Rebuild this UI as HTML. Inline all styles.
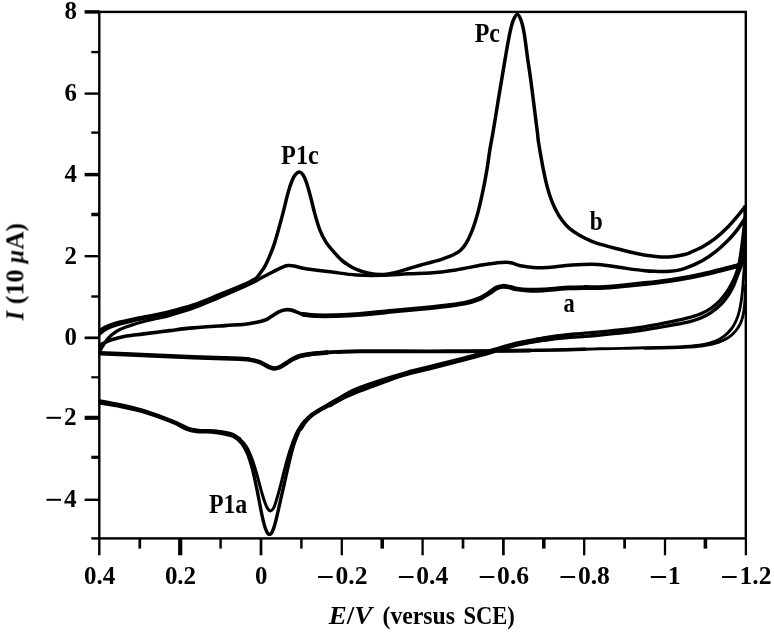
<!DOCTYPE html>
<html>
<head>
<meta charset="utf-8">
<title>Cyclic voltammogram</title>
<style>
html,body{margin:0;padding:0;background:#fff;}
body{width:774px;height:633px;overflow:hidden;}
svg{display:block;}
svg text{font-family:"Liberation Serif",serif;font-weight:bold;font-size:26px;fill:#000;}
svg text.t{font-size:25px;}
svg text.p{font-size:27px;}
svg .i{font-style:italic;}
.cv path{fill:none;stroke:#000;stroke-linecap:round;stroke-linejoin:round;}
.ax line{stroke:#000;}
</style>
</head>
<body>
<svg width="774" height="633" viewBox="0 0 774 633">
<rect x="0" y="0" width="774" height="633" fill="#fff"/>
<defs><filter id="soft" x="0" y="0" width="774" height="633" filterUnits="userSpaceOnUse"><feGaussianBlur stdDeviation="0.45"/></filter><clipPath id="fr"><rect x="98.2" y="10.8" width="648.6" height="528.6"/></clipPath></defs>
<g filter="url(#soft)">
<g class="cv" clip-path="url(#fr)">
<path d="M99.5,331.0C100.4,330.4 102.3,328.6 105.0,327.3C107.7,326.0 109.7,324.8 115.8,323.2C121.9,321.6 133.1,319.3 141.7,317.5C150.3,315.7 158.9,314.3 167.5,312.2C176.1,310.1 184.8,307.9 193.4,305.0C202.0,302.1 210.6,298.2 219.2,294.7C227.8,291.2 239.5,286.4 245.0,284.0C250.5,281.6 250.1,281.6 252.0,280.6C253.9,279.6 255.1,279.2 256.4,278.0C257.7,276.8 258.7,275.2 260.0,273.4C261.3,271.6 262.9,269.9 264.4,267.2C265.9,264.5 267.7,260.7 269.1,257.4C270.5,254.1 271.7,251.2 273.0,247.6C274.3,244.0 275.1,241.7 276.7,236.0C278.3,230.3 281.0,220.6 282.9,213.4C284.8,206.2 286.5,198.4 288.0,192.9C289.5,187.4 290.8,183.6 292.1,180.5C293.4,177.4 294.4,175.8 295.6,174.4C296.8,173.0 298.1,171.9 299.3,172.0C300.5,172.1 301.8,173.0 303.0,174.8C304.2,176.6 305.2,178.9 306.5,182.6C307.8,186.3 309.2,191.9 310.6,197.0C312.0,202.1 313.2,207.9 314.7,213.4C316.2,218.9 317.9,225.0 319.8,229.8C321.7,234.6 323.6,238.3 326.0,242.1C328.4,245.9 331.4,249.2 334.2,252.4C337.0,255.6 339.0,258.2 342.6,261.0C346.2,263.8 351.4,267.2 355.8,269.2C360.2,271.2 364.5,272.3 368.8,273.2C373.1,274.1 377.4,274.7 381.7,274.6C386.0,274.5 390.3,273.5 394.6,272.6C398.9,271.7 403.1,270.3 407.5,269.0C411.9,267.7 416.8,266.2 420.9,265.0C425.0,263.8 428.3,263.0 432.0,262.0C435.7,261.0 439.4,260.0 442.9,258.8C446.4,257.6 449.9,256.4 452.9,255.0C455.8,253.6 458.4,252.2 460.6,250.2C462.8,248.2 464.5,245.9 466.3,243.0C468.1,240.1 469.9,236.1 471.3,232.7C472.7,229.3 473.5,227.3 474.9,222.8C476.3,218.3 478.2,211.5 479.6,205.8C481.0,200.1 482.1,195.0 483.4,188.7C484.7,182.4 486.1,174.5 487.2,167.9C488.3,161.3 489.0,154.8 490.0,148.9C491.0,143.0 492.1,137.8 493.0,132.3C493.9,126.8 494.8,121.7 495.7,115.9C496.6,110.1 497.7,103.6 498.7,97.4C499.7,91.2 500.8,85.1 501.8,78.9C502.8,72.7 503.9,66.5 504.9,60.4C505.9,54.3 507.0,47.7 508.0,42.5C509.0,37.3 509.8,33.0 510.7,29.2C511.6,25.4 512.4,22.3 513.5,19.8C514.6,17.3 516.0,14.2 517.2,14.2C518.4,14.2 519.9,17.3 520.9,19.8C521.9,22.3 522.6,25.4 523.4,29.2C524.2,33.0 524.8,37.3 525.5,42.5C526.2,47.7 527.0,54.3 527.9,60.4C528.8,66.5 529.8,72.7 530.6,78.9C531.5,85.1 532.2,91.2 533.0,97.4C533.8,103.6 534.6,110.1 535.3,115.9C536.0,121.7 536.9,128.1 537.4,132.3C537.9,136.6 537.8,137.6 538.4,141.4C539.0,145.2 539.9,150.4 540.7,155.2C541.6,160.0 542.5,165.6 543.5,170.3C544.5,175.0 545.3,179.2 546.4,183.6C547.5,188.0 548.8,192.7 550.2,196.8C551.6,200.9 553.0,204.4 554.9,208.2C556.8,212.0 559.1,216.2 561.5,219.5C563.9,222.8 566.2,225.6 569.1,228.1C572.0,230.6 574.8,232.5 578.6,234.7C582.4,236.9 587.1,239.4 591.8,241.3C596.5,243.2 602.3,244.7 607.0,246.1C611.7,247.5 615.5,248.3 620.2,249.5C624.9,250.7 630.4,252.1 635.0,253.1C639.6,254.1 643.7,255.0 648.0,255.6C652.3,256.2 656.7,256.8 661.0,256.9C665.3,257.0 669.9,256.8 674.0,256.4C678.1,256.0 682.7,254.9 685.4,254.3C688.1,253.7 687.1,253.8 690.0,252.6C692.9,251.3 698.4,249.2 702.6,246.8C706.8,244.4 711.1,241.7 715.3,238.4C719.5,235.1 724.1,230.8 727.9,227.0C731.7,223.2 735.3,218.8 738.0,215.6C740.7,212.4 743.1,209.1 744.3,207.6C745.5,206.1 744.9,206.9 745.0,206.8" stroke-width="3.5"/>
<path d="M99.5,334.0C100.4,333.3 102.9,331.0 104.9,329.8C106.9,328.6 108.2,327.8 111.4,326.6C114.6,325.4 118.9,324.2 124.3,322.8C129.7,321.4 136.5,319.7 143.7,318.2C150.9,316.7 159.2,315.6 167.5,313.6C175.8,311.7 184.8,309.4 193.4,306.5C202.0,303.6 210.6,299.7 219.2,296.1C227.8,292.6 238.5,287.9 245.0,285.2C251.5,282.4 253.2,281.9 258.0,279.6C262.8,277.3 269.6,273.6 273.6,271.5C277.6,269.4 279.6,268.3 282.0,267.3C284.4,266.3 286.0,265.8 288.0,265.6C290.0,265.4 291.2,265.5 294.0,266.0C296.8,266.5 298.5,267.4 304.6,268.4C310.7,269.4 321.8,270.7 330.4,271.8C339.0,272.9 347.7,274.4 356.3,275.0C364.9,275.6 373.5,275.5 382.1,275.3C390.7,275.1 400.0,274.2 408.0,273.8C416.0,273.4 422.0,273.6 430.0,273.0C438.0,272.4 447.2,271.2 455.8,269.9C464.4,268.6 474.8,266.2 481.7,265.0C488.6,263.8 492.9,263.3 497.0,262.8C501.1,262.3 503.5,262.2 506.0,262.2C508.5,262.2 509.6,262.4 512.0,263.0C514.4,263.6 516.8,265.0 520.4,265.8C524.0,266.6 529.1,267.3 533.4,267.6C537.7,267.9 539.8,268.0 546.3,267.6C552.8,267.2 563.5,265.5 572.1,265.0C580.7,264.5 589.6,264.0 598.0,264.5C606.4,265.0 614.7,266.8 622.5,267.8C630.3,268.9 639.1,270.2 645.0,270.8C650.9,271.4 653.8,271.3 658.0,271.4C662.2,271.5 666.2,271.5 670.0,271.2C673.8,270.9 677.6,270.4 680.9,269.6C684.2,268.8 686.4,267.9 690.0,266.4C693.6,264.9 698.4,263.0 702.6,260.6C706.8,258.2 711.1,255.2 715.3,251.9C719.5,248.6 724.3,244.1 727.9,240.5C731.5,236.9 734.4,233.5 736.8,230.4C739.2,227.3 741.0,224.3 742.4,222.2C743.8,220.1 744.6,218.7 745.0,218.0" stroke-width="3.5"/>
<path d="M99.8,352.0C100.0,351.5 100.4,349.9 100.8,349.0C101.2,348.1 101.6,347.7 102.3,346.7C103.0,345.7 103.8,344.3 104.9,342.8C106.0,341.3 107.3,339.2 108.8,337.6C110.3,336.0 112.1,334.5 114.0,333.1C115.9,331.7 117.6,330.5 120.4,329.2C123.2,327.9 126.9,326.7 130.8,325.4C134.7,324.1 139.4,322.6 143.7,321.5C148.0,320.4 152.2,319.5 156.6,318.5C161.0,317.5 163.9,317.1 170.0,315.4C176.1,313.6 185.2,311.0 193.4,308.0C201.6,305.0 210.6,301.0 219.2,297.4C227.8,293.8 238.9,288.9 245.0,286.2C251.1,283.5 254.2,281.9 256.0,281.0" stroke-width="3.3"/>
<path d="M745.0,207.0C745.0,210.0 745.1,218.7 745.0,225.0C744.9,231.3 744.5,239.5 744.2,245.0C743.9,250.5 743.5,254.5 743.0,258.0C742.5,261.5 741.8,263.9 741.2,266.0C740.6,268.1 740.1,268.7 739.4,270.5C738.7,272.3 737.9,274.4 736.9,277.0C735.9,279.6 734.8,283.0 733.4,286.0C732.0,289.0 730.4,292.0 728.4,295.0C726.4,298.0 724.1,301.1 721.3,304.0C718.4,306.9 714.6,310.1 711.3,312.4C708.0,314.7 704.9,316.3 701.4,317.8C697.9,319.3 693.9,320.6 690.0,321.6C686.1,322.6 683.3,323.0 678.0,324.0C672.7,325.0 664.3,326.5 658.0,327.6C651.7,328.7 646.3,329.7 640.0,330.6C633.7,331.5 626.7,332.3 620.0,333.0C613.3,333.7 605.9,334.4 600.0,335.0C594.1,335.6 591.6,335.8 584.8,336.4C578.0,337.0 567.3,337.6 559.2,338.4C551.1,339.2 544.0,339.9 536.4,341.0C528.8,342.1 520.3,343.6 513.7,345.0C507.1,346.4 502.3,348.1 496.6,349.7C490.9,351.3 486.2,352.9 479.6,354.8C473.0,356.7 465.4,358.9 456.9,361.1C448.4,363.3 436.8,366.1 428.4,368.2C420.0,370.3 413.9,371.6 406.5,373.9C399.1,376.2 388.9,380.3 383.7,382.2C378.4,384.1 379.9,383.6 375.0,385.5C370.1,387.4 360.1,390.9 354.0,393.4C347.9,395.9 343.5,398.0 338.2,400.5C332.9,403.0 326.9,405.9 322.4,408.4C317.9,410.9 314.2,413.2 311.3,415.5C308.4,417.8 306.8,419.7 305.0,421.9C303.2,424.1 301.8,426.7 300.6,428.6C299.4,430.5 299.2,430.5 298.0,433.5C296.8,436.5 294.8,441.2 293.2,446.5C291.6,451.8 290.0,458.9 288.4,465.5C286.8,472.1 285.3,479.4 283.7,486.3C282.1,493.2 280.4,501.0 279.0,507.1C277.6,513.2 276.3,519.1 275.2,523.2C274.1,527.3 273.2,529.8 272.3,531.7C271.4,533.6 270.4,534.4 269.5,534.4C268.6,534.4 267.6,533.6 266.7,531.7C265.8,529.8 264.9,527.6 263.8,523.2C262.7,518.8 261.2,511.4 260.0,505.2C258.8,499.0 257.6,492.3 256.3,486.3C255.1,480.3 253.9,474.6 252.5,469.2C251.1,463.8 249.4,458.4 247.7,454.1C245.9,449.9 244.2,446.6 242.0,443.7C239.8,440.8 237.3,438.6 234.5,437.0C231.7,435.4 228.9,434.8 225.0,434.0C221.1,433.2 215.7,432.4 211.3,432.0C206.9,431.6 202.3,432.1 198.4,431.7C194.5,431.3 192.3,431.3 188.0,429.7C183.7,428.1 179.4,425.0 172.5,422.2C165.6,419.4 155.3,415.4 146.7,412.8C138.1,410.2 128.5,408.2 120.8,406.6C113.0,405.0 103.6,403.8 100.2,403.2" stroke-width="3.4"/>
<path d="M745.0,218.0C744.9,219.3 744.6,222.3 744.2,226.0C743.8,229.7 743.1,235.7 742.6,240.0C742.1,244.3 741.5,248.3 741.0,252.0C740.5,255.7 740.0,259.0 739.4,262.0C738.8,265.0 738.1,267.7 737.4,270.0C736.7,272.3 736.1,273.8 735.2,276.0C734.3,278.2 733.4,280.4 732.0,283.0C730.6,285.6 729.0,288.9 727.0,291.8C725.0,294.7 722.5,297.9 719.9,300.6C717.3,303.3 714.4,305.8 711.3,308.0C708.2,310.2 704.9,312.0 701.4,313.6C697.9,315.2 693.9,316.3 690.0,317.4C686.1,318.5 683.3,319.0 678.0,320.2C672.7,321.4 664.3,323.1 658.0,324.3C651.7,325.5 646.3,326.6 640.0,327.5C633.7,328.4 626.7,329.3 620.0,330.0C613.3,330.7 607.5,331.2 600.0,331.9C592.5,332.6 583.0,333.2 575.0,334.0C567.0,334.8 558.4,335.7 552.0,336.6C545.6,337.5 539.0,338.8 536.4,339.2" stroke-width="3.3"/>
<path d="M305.0,420.5C304.3,421.4 302.3,423.4 300.8,425.7C299.3,428.0 297.8,430.1 296.0,434.2C294.2,438.3 291.8,444.8 290.0,450.3C288.2,455.8 286.7,461.3 285.1,467.3C283.5,473.3 281.7,480.9 280.3,486.3C278.9,491.7 277.7,495.9 276.6,499.5C275.5,503.1 274.7,506.0 273.7,507.9C272.7,509.8 271.5,510.8 270.5,510.9C269.5,511.0 268.7,510.1 267.8,508.8C266.9,507.5 266.2,506.1 265.2,503.3C264.2,500.5 263.0,496.7 261.6,492.0C260.2,487.3 258.6,480.3 257.0,474.9C255.4,469.5 254.0,464.4 252.3,459.8C250.6,455.2 248.7,450.4 246.6,447.0C244.5,443.6 242.4,441.5 240.0,439.5C237.6,437.5 233.3,435.8 232.0,435.0" stroke-width="3.0"/>
<path d="M240.0,439.0C238.7,438.2 235.0,435.4 232.0,434.2C229.0,433.0 225.4,432.5 222.0,431.9C218.6,431.3 215.2,430.9 211.3,430.7C207.4,430.4 202.3,430.8 198.4,430.4C194.5,430.0 192.3,430.0 188.0,428.4C183.7,426.8 179.4,423.8 172.5,421.0C165.6,418.2 155.3,414.3 146.7,411.6C138.1,408.9 128.5,406.7 120.8,404.9C113.0,403.1 103.6,401.6 100.2,401.0" stroke-width="3.4"/>
<path d="M99.5,346.0C99.8,345.7 100.7,344.9 101.5,344.4C102.3,343.9 102.8,343.6 104.5,342.8C106.2,342.0 108.1,340.9 111.4,339.8C114.7,338.8 118.9,337.5 124.3,336.5C129.7,335.5 136.2,334.9 143.7,333.9C151.2,332.9 161.2,331.6 169.5,330.6C177.8,329.6 184.2,328.7 193.4,327.9C202.7,327.1 216.4,326.2 225.0,325.6C233.6,325.0 239.9,324.7 245.0,324.2C250.1,323.7 252.4,323.2 255.8,322.5C259.2,321.8 262.7,321.0 265.3,320.0C267.9,319.0 269.5,317.6 271.6,316.3C273.7,315.0 275.8,313.4 277.9,312.3C280.0,311.2 282.1,310.4 284.2,310.0C286.3,309.6 288.5,309.5 290.6,309.9C292.7,310.2 294.8,311.4 296.9,312.1C299.0,312.9 300.0,313.8 303.2,314.4C306.4,315.0 310.5,315.5 315.8,315.7C321.1,315.9 331.6,315.7 334.8,315.7" stroke-width="3.6"/>
<path d="M303.2,314.4C305.3,314.6 310.5,315.5 315.8,315.7C321.1,315.9 327.4,315.9 334.8,315.7C342.2,315.5 349.5,315.2 360.0,314.4C370.5,313.6 386.6,311.8 398.0,310.7C409.4,309.6 419.7,308.7 428.4,307.8C437.1,306.9 443.8,306.2 450.0,305.4C456.2,304.6 460.9,304.0 465.5,303.0C470.1,302.0 474.0,300.9 477.9,299.3C481.8,297.7 485.7,295.2 488.8,293.3C491.9,291.4 494.2,289.2 496.5,288.0C498.8,286.8 500.6,286.5 502.7,286.3C504.8,286.1 506.6,286.6 508.9,287.0C511.2,287.4 513.6,288.5 516.7,289.0C519.8,289.5 523.1,290.0 527.5,290.2C531.9,290.4 537.8,290.2 543.0,290.0C548.2,289.8 554.0,289.1 558.5,288.7C563.0,288.3 565.6,288.1 570.0,287.9C574.4,287.7 580.0,287.6 585.0,287.5C590.0,287.4 593.8,287.9 600.0,287.6C606.2,287.3 615.0,286.5 622.5,285.8C630.0,285.1 637.5,284.3 645.0,283.5C652.5,282.7 659.9,281.9 667.4,280.8C674.9,279.7 683.9,278.2 690.0,277.1C696.1,276.0 699.5,275.3 704.2,274.2C708.9,273.1 713.6,271.9 718.4,270.7C723.1,269.5 729.4,268.0 732.7,267.1C736.0,266.2 736.8,266.3 738.4,265.5C740.0,264.7 741.4,263.8 742.5,262.5C743.6,261.2 744.6,258.8 745.0,258.0" stroke-width="4.8"/>
<path d="M745.0,258.0C744.9,259.3 744.8,263.4 744.6,266.0C744.4,268.6 744.1,270.1 743.8,273.5C743.5,276.9 743.3,282.0 742.9,286.3C742.5,290.6 742.1,295.1 741.5,299.1C740.9,303.1 740.4,306.9 739.5,310.5C738.6,314.1 737.6,317.4 736.2,320.5C734.8,323.6 733.3,326.4 731.3,329.0C729.3,331.6 726.7,334.1 724.1,336.1C721.5,338.1 718.9,339.7 715.6,341.1C712.3,342.5 708.5,343.6 704.2,344.5C699.9,345.4 694.2,345.8 690.0,346.2C685.8,346.6 686.2,346.6 678.7,346.9C671.2,347.2 654.5,347.6 645.0,347.8C635.5,348.1 629.5,348.2 622.0,348.4C614.5,348.6 607.8,348.6 600.0,348.8C592.2,349.0 583.3,349.3 575.0,349.5C566.7,349.7 559.2,349.9 550.0,350.1C540.8,350.3 525.0,350.5 520.0,350.6" stroke-width="2.9"/>
<path d="M585.0,349.3C579.2,349.4 560.8,349.9 550.0,350.1C539.2,350.3 528.3,350.5 520.0,350.6C511.7,350.7 503.3,350.8 500.0,350.9" stroke-width="3.4"/>
<path d="M530.0,350.5C525.0,350.6 513.3,350.8 500.0,350.9C486.7,351.0 467.0,351.2 450.0,351.3C433.0,351.4 413.0,351.3 398.0,351.3C383.0,351.3 369.2,351.2 360.0,351.3C350.8,351.4 348.2,351.5 342.7,351.7C337.2,351.9 332.2,352.1 326.9,352.5C321.6,352.9 315.6,353.4 311.1,354.0C306.6,354.6 301.9,355.7 300.0,356.0" stroke-width="3.9"/>
<path d="M326.9,352.5C324.3,352.8 315.6,353.4 311.1,354.0C306.6,354.6 303.2,355.1 300.0,356.0C296.8,356.9 294.5,358.2 292.1,359.5C289.7,360.8 287.9,362.2 285.8,363.5C283.7,364.8 281.3,366.4 279.5,367.2C277.7,368.0 276.4,368.5 274.8,368.5C273.2,368.5 271.6,368.0 270.0,367.4C268.4,366.8 267.1,365.9 265.3,365.0C263.5,364.1 261.6,362.8 259.0,361.9C256.4,361.0 252.7,360.1 249.5,359.6C246.3,359.1 249.3,359.2 240.0,358.8C230.7,358.4 209.8,357.9 193.4,357.2C177.0,356.5 157.2,355.6 141.7,354.9C126.2,354.2 107.2,353.5 100.3,353.2" stroke-width="4.5"/>
<path d="M745.6,285.0C745.5,286.8 745.4,292.7 745.2,296.0C745.0,299.3 744.9,301.7 744.6,304.8C744.3,307.9 743.9,311.7 743.2,314.8C742.5,317.9 741.8,320.6 740.5,323.3C739.2,326.0 737.5,328.7 735.5,331.1C733.5,333.5 731.2,335.6 728.4,337.5C725.5,339.4 722.4,340.9 718.4,342.3C714.4,343.7 708.9,344.8 704.2,345.6C699.5,346.4 694.2,346.8 690.0,347.1C685.8,347.4 686.2,347.4 678.7,347.6C671.2,347.8 650.6,348.3 645.0,348.4" stroke-width="2.9"/>
<path d="M552.0,338.3C549.4,338.6 542.8,339.3 536.4,340.4C530.0,341.5 520.3,343.2 513.7,344.8C507.1,346.4 502.3,348.1 496.6,349.8C490.9,351.5 486.2,353.0 479.6,354.8C473.0,356.6 465.2,358.7 456.9,360.8C448.6,362.9 438.2,365.5 430.0,367.6C421.8,369.7 415.6,371.0 407.5,373.2C399.4,375.4 390.3,378.2 381.7,381.0C373.1,383.8 363.1,387.1 355.8,390.2C348.6,393.3 342.5,397.4 338.2,399.8C333.9,402.2 331.4,403.8 330.0,404.6" stroke-width="5.3"/>
<path d="M338.2,399.8C335.6,401.2 326.9,405.8 322.4,408.4C317.9,411.0 314.2,413.2 311.3,415.5C308.4,417.8 306.8,419.7 305.0,421.9C303.2,424.1 301.3,427.5 300.6,428.6" stroke-width="4.5"/>
</g>
<g class="ax">
<rect x="99.3" y="11.9" width="646.5" height="526.5" fill="none" stroke="#000" stroke-width="2.4"/>
<line x1="84.6" x2="99.3" y1="11.9" y2="11.9" stroke-width="3.5"/>
<line x1="91.3" x2="99.3" y1="52.1" y2="52.1" stroke-width="2.4"/>
<line x1="84.6" x2="99.3" y1="93.6" y2="93.6" stroke-width="2.4"/>
<line x1="91.3" x2="99.3" y1="132.6" y2="132.6" stroke-width="2.4"/>
<line x1="84.6" x2="99.3" y1="174.6" y2="174.6" stroke-width="3.5"/>
<line x1="91.3" x2="99.3" y1="214.5" y2="214.5" stroke-width="3.5"/>
<line x1="84.6" x2="99.3" y1="256.2" y2="256.2" stroke-width="2.4"/>
<line x1="91.3" x2="99.3" y1="296.5" y2="296.5" stroke-width="2.4"/>
<line x1="84.6" x2="99.3" y1="337.8" y2="337.8" stroke-width="2.7"/>
<line x1="91.3" x2="99.3" y1="377.3" y2="377.3" stroke-width="2.2"/>
<line x1="84.6" x2="99.3" y1="417.8" y2="417.8" stroke-width="4.1"/>
<line x1="91.3" x2="99.3" y1="457.3" y2="457.3" stroke-width="3.2"/>
<line x1="84.6" x2="99.3" y1="499.8" y2="499.8" stroke-width="2.4"/>
<line x1="91.3" x2="99.3" y1="538.4" y2="538.4" stroke-width="2.4"/>
<line x1="99.3" x2="99.3" y1="538.4" y2="555.3" stroke-width="2.4"/>
<line x1="139.8" x2="139.8" y1="538.4" y2="548.6" stroke-width="2.7"/>
<line x1="180.2" x2="180.2" y1="538.4" y2="555.3" stroke-width="4.2"/>
<line x1="220.6" x2="220.6" y1="538.4" y2="548.6" stroke-width="2.4"/>
<line x1="261.0" x2="261.0" y1="538.4" y2="555.3" stroke-width="2.7"/>
<line x1="301.4" x2="301.4" y1="538.4" y2="548.6" stroke-width="2.4"/>
<line x1="341.8" x2="341.8" y1="538.4" y2="555.3" stroke-width="2.3"/>
<line x1="382.2" x2="382.2" y1="538.4" y2="548.6" stroke-width="3.6"/>
<line x1="422.6" x2="422.6" y1="538.4" y2="555.3" stroke-width="2.3"/>
<line x1="463.0" x2="463.0" y1="538.4" y2="548.6" stroke-width="2.7"/>
<line x1="503.4" x2="503.4" y1="538.4" y2="555.3" stroke-width="2.7"/>
<line x1="543.8" x2="543.8" y1="538.4" y2="548.6" stroke-width="3.6"/>
<line x1="584.2" x2="584.2" y1="538.4" y2="555.3" stroke-width="2.3"/>
<line x1="624.6" x2="624.6" y1="538.4" y2="548.6" stroke-width="2.7"/>
<line x1="665.0" x2="665.0" y1="538.4" y2="555.3" stroke-width="2.3"/>
<line x1="705.4" x2="705.4" y1="538.4" y2="548.6" stroke-width="3.6"/>
<line x1="745.9" x2="745.9" y1="538.4" y2="555.3" stroke-width="2.3"/>
</g>
<g class="lb" style="opacity:.999">
<text x="64.4" y="19.3" textLength="12.4" lengthAdjust="spacingAndGlyphs">8</text>
<text x="64.4" y="101.0" textLength="12.4" lengthAdjust="spacingAndGlyphs">6</text>
<text x="64.4" y="182.0" textLength="12.4" lengthAdjust="spacingAndGlyphs">4</text>
<text x="64.4" y="263.6" textLength="12.4" lengthAdjust="spacingAndGlyphs">2</text>
<text x="64.4" y="345.2" textLength="12.4" lengthAdjust="spacingAndGlyphs">0</text>
<rect x="46.5" y="416.8" width="14.5" height="2.0"/>
<text x="64.0" y="425.2" textLength="12.6" lengthAdjust="spacingAndGlyphs">2</text>
<rect x="46.5" y="498.8" width="14.5" height="2.0"/>
<text x="64.0" y="507.2" textLength="12.6" lengthAdjust="spacingAndGlyphs">4</text>
<text x="84.0" y="584.2" textLength="31.2" lengthAdjust="spacingAndGlyphs">0.4</text>
<text x="164.9" y="584.2" textLength="31.2" lengthAdjust="spacingAndGlyphs">0.2</text>
<text x="255.1" y="584.2" textLength="12.4" lengthAdjust="spacingAndGlyphs">0</text>
<rect x="318.1" y="576.0" width="14.6" height="2.0"/>
<text x="335.5" y="584.2" textLength="32.0" lengthAdjust="spacingAndGlyphs">0.2</text>
<rect x="398.9" y="576.0" width="14.6" height="2.0"/>
<text x="416.3" y="584.2" textLength="32.0" lengthAdjust="spacingAndGlyphs">0.4</text>
<rect x="479.7" y="576.0" width="14.6" height="2.0"/>
<text x="497.1" y="584.2" textLength="32.0" lengthAdjust="spacingAndGlyphs">0.6</text>
<rect x="560.5" y="576.0" width="14.6" height="2.0"/>
<text x="577.9" y="584.2" textLength="32.0" lengthAdjust="spacingAndGlyphs">0.8</text>
<rect x="722.1" y="576.0" width="14.6" height="2.0"/>
<text x="739.5" y="584.2" textLength="32.0" lengthAdjust="spacingAndGlyphs">1.2</text>
<rect x="650.8" y="576.0" width="15.3" height="2.0"/>
<text x="667.8" y="584.2">1</text>
<text x="328.8" y="624.4" textLength="43.6" lengthAdjust="spacingAndGlyphs" class="t"><tspan class="i">E</tspan>/<tspan class="i">V</tspan></text>
<text x="382.5" y="624.4" textLength="72.4" lengthAdjust="spacingAndGlyphs" class="t">(versus</text>
<text x="463.4" y="624.4" textLength="51.4" lengthAdjust="spacingAndGlyphs" class="t">SCE)</text>
<g transform="translate(23.4,320.5) rotate(-90)"><text x="0.2" y="0" textLength="9.3" lengthAdjust="spacingAndGlyphs" class="i">I</text><text x="16.3" y="0" textLength="34.8" lengthAdjust="spacingAndGlyphs">(10</text><text x="56.9" y="0" textLength="13.7" lengthAdjust="spacingAndGlyphs" class="i">µ</text><text x="70.9" y="0" textLength="26.4" lengthAdjust="spacingAndGlyphs">A)</text></g>
<text x="474.7" y="41.7" textLength="25.3" lengthAdjust="spacingAndGlyphs" class="p">Pc</text>
<text x="281.1" y="163.9" textLength="37.8" lengthAdjust="spacingAndGlyphs" class="p">P1c</text>
<text x="589.8" y="230.2" textLength="13.0" lengthAdjust="spacingAndGlyphs" class="p">b</text>
<text x="563.6" y="312.3" textLength="11.2" lengthAdjust="spacingAndGlyphs" class="p">a</text>
<text x="208.9" y="513.1" textLength="38.4" lengthAdjust="spacingAndGlyphs" class="p">P1a</text>
</g>
</g>
</svg>
</body>
</html>
